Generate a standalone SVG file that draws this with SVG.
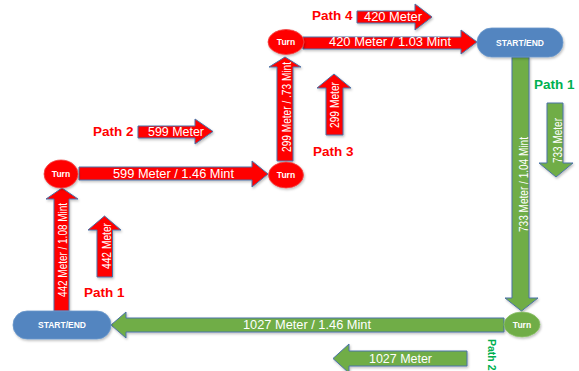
<svg xmlns="http://www.w3.org/2000/svg" width="579" height="371" viewBox="0 0 579 371">
<style>
.r{fill:#FF0000;stroke:#4A72A8;stroke-width:1}
.g{fill:#70AD47;stroke:#4A72A8;stroke-width:1}
.nr{fill:#FF0000;stroke:#F04848;stroke-width:0.8}
.ng{fill:#70AD47;stroke:#8CC06A;stroke-width:0.8}
.nb{fill:#5285C0;stroke:#6B98CC;stroke-width:0.8}
.lab{font-family:"Liberation Sans",Arial,sans-serif;fill:#FFFFFF;font-size:12px}
.nl{font-family:"Liberation Sans",Arial,sans-serif;fill:#FFFFFF;font-size:8.5px;font-weight:bold;text-anchor:middle}
.pr{font-family:"Liberation Sans",Arial,sans-serif;fill:#FF0000;font-size:13.5px;font-weight:bold}
.pg{font-family:"Liberation Sans",Arial,sans-serif;fill:#00B050;font-size:13.5px;font-weight:bold}
.sh{filter:url(#ds)}
</style>
<defs>
<filter id="ds" x="-20%" y="-20%" width="140%" height="140%">
<feDropShadow dx="1" dy="1.5" stdDeviation="1" flood-color="#000" flood-opacity="0.25"/>
</filter>
</defs>
<rect width="579" height="371" fill="#FFFFFF"/>
<g id="connectors">
<path class="r sh" d="M54,311 L54,199 L46,199 L62,188 L78,199 L69,199 L69,311 Z"/>
<path class="r sh" d="M97,277 L97,230 L88,230 L104.5,216 L121,230 L112.5,230 L112.5,277 Z"/>
<path class="r sh" d="M79,167 L252,167 L252,161 L268,174 L252,187 L252,180 L79,180 Z"/>
<path class="r sh" d="M138,126 L195,126 L195,119 L213,131.5 L195,144 L195,138 L138,138 Z"/>
<path class="r sh" d="M277,161 L277,67 L269,67 L285,57 L301,67 L293,67 L293,161 Z"/>
<path class="r sh" d="M326,135 L326,88 L317,88 L334,74 L351,88 L343,88 L343,135 Z"/>
<path class="r sh" d="M303,37 L461,37 L461,30 L477,42 L461,54 L461,49 L303,49 Z"/>
<path class="r sh" d="M357,11 L415,11 L415,4 L432,17 L415,30 L415,23 L357,23 Z"/>
<path class="g sh" d="M512,57 L512,298 L505,298 L521.5,311 L538,298 L529,298 L529,57 Z"/>
<path class="g sh" d="M547,103 L547,163 L539,163 L556,177 L573,163 L563,163 L563,103 Z"/>
<path class="g sh" d="M504,318 L126,318 L126,312 L111,325 L126,338 L126,332 L504,332 Z"/>
<path class="g sh" d="M467,351 L349,351 L349,344 L333,358.5 L349,373 L349,366 L467,366 Z"/>
<text class="lab" transform="translate(66.5,250) rotate(-90)" text-anchor="middle" textLength="94" lengthAdjust="spacingAndGlyphs">442 Meter / 1.08 Mint</text>
<text class="lab" transform="translate(111,246) rotate(-90)" text-anchor="middle" textLength="46" lengthAdjust="spacingAndGlyphs">442 Meter</text>
<text class="lab" transform="translate(290.5,107) rotate(-90)" text-anchor="middle" textLength="90" lengthAdjust="spacingAndGlyphs">299 Meter / .73 Mint</text>
<text class="lab" transform="translate(339,105) rotate(-90)" text-anchor="middle" textLength="46" lengthAdjust="spacingAndGlyphs">299 Meter</text>
<text class="lab" transform="translate(528,184.5) rotate(-90)" text-anchor="middle" textLength="95" lengthAdjust="spacingAndGlyphs">733 Meter / 1.04 Mint</text>
<text class="lab" transform="translate(561.5,140.5) rotate(-90)" text-anchor="middle" textLength="45" lengthAdjust="spacingAndGlyphs">733 Meter</text>
<text class="lab" x="113" y="177.5" textLength="121" lengthAdjust="spacingAndGlyphs">599 Meter / 1.46 Mint</text>
<text class="lab" x="148" y="136" textLength="56" lengthAdjust="spacingAndGlyphs">599 Meter</text>
<text class="lab" x="329" y="46" textLength="122" lengthAdjust="spacingAndGlyphs">420 Meter / 1.03 Mint</text>
<text class="lab" x="364" y="21" textLength="58" lengthAdjust="spacingAndGlyphs">420 Meter</text>
<text class="lab" x="243" y="329" textLength="128" lengthAdjust="spacingAndGlyphs">1027 Meter / 1.46 Mint</text>
<text class="lab" x="369" y="362.5" textLength="63" lengthAdjust="spacingAndGlyphs">1027 Meter</text>
</g>
<g id="labels">
<text class="pr" x="84" y="297">Path 1</text>
<text class="pr" x="93" y="136">Path 2</text>
<text class="pr" x="313" y="156">Path 3</text>
<text class="pr" x="312" y="20">Path 4</text>
<text class="pg" x="534" y="89">Path 1</text>
<text class="pg" style="font-size:10.5px" transform="translate(488,339) rotate(90)">Path 2</text>
</g>
<g id="start-end-bottom">
<rect class="nb sh" x="13" y="311" width="98" height="28" rx="14"/>
<text class="nl" x="62" y="328">START/END</text>
</g>
<g id="start-end-top">
<rect class="nb sh" x="477" y="28" width="86" height="29" rx="14.5"/>
<text class="nl" x="520" y="45.5">START/END</text>
</g>
<g id="turn-1">
<ellipse class="nr sh" cx="61" cy="174" rx="17" ry="14"/>
<text class="nl" x="61" y="177">Turn</text>
</g>
<g id="turn-2">
<ellipse class="nr sh" cx="286" cy="175" rx="17.5" ry="13"/>
<text class="nl" x="286" y="178">Turn</text>
</g>
<g id="turn-3">
<ellipse class="nr sh" cx="286" cy="42" rx="18" ry="12.5"/>
<text class="nl" x="286" y="45">Turn</text>
</g>
<g id="turn-4">
<ellipse class="ng sh" cx="522" cy="324.5" rx="18" ry="12.5"/>
<text class="nl" x="522" y="327.5">Turn</text>
</g>
</svg>
